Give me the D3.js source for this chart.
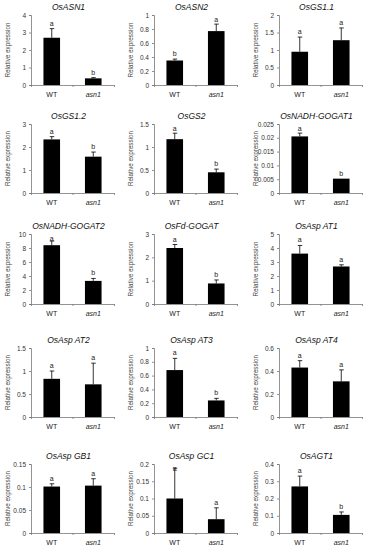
<!DOCTYPE html>
<html>
<head>
<meta charset="utf-8">
<script src="https://cdn.jsdelivr.net/npm/d3@7"></script>
<style>
  body { margin: 0; background: #fff; }
  svg { display: block; font-family: "Liberation Sans", Arial, sans-serif; }
</style>
</head>
<body>
<svg id="chart"></svg>
<script>
var width = 365;
var height = 550;

// chart values
var genes = ["OsASN1", "OsASN2", "OsGS1.1",
             "OsGS1.2", "OsGS2", "OsNADH-GOGAT1",
             "OsNADH-GOGAT2", "OsFd-GOGAT", "OsAsp AT1",
             "OsAsp AT2", "OsAsp AT3", "OsAsp AT4",
             "OsAsp GB1", "OsAsp GC1", "OsAGT1"];
var groups = ["WT", "asn1"];
var wtMean  = [2.7, 0.35, 0.95, 2.33, 1.17, 0.0205, 8.4, 2.4, 3.6, 0.83, 0.68, 0.43, 0.101, 0.1, 0.27];
var wtErr   = [0.52, 0.02, 0.42, 0.12, 0.13, 0.0012, 0.6, 0.15, 0.58, 0.17, 0.17, 0.06, 0.006, 0.088, 0.06];
var asnMean = [0.38, 0.77, 1.28, 1.58, 0.45, 0.0052, 3.3, 0.88, 2.68, 0.71, 0.24, 0.31, 0.103, 0.04, 0.105];
var asnErr  = [0.04, 0.10, 0.35, 0.2, 0.07, 0, 0.35, 0.15, 0.12, 0.46, 0.03, 0.10, 0.015, 0.033, 0.017];
var wtLetter  = ["a", "b", "a", "a", "a", "a", "a", "a", "a", "a", "a", "a", "a", "a", "a"];
var asnLetter = ["b", "a", "a", "b", "b", "b", "b", "b", "a", "a", "b", "a", "a", "a", "b"];
var yMax  = [4, 1, 2, 3, 1.5, 0.025, 10, 3, 5, 1.5, 1, 0.6, 0.15, 0.2, 0.4];
var yStep = [1, 0.2, 0.5, 1, 0.5, 0.005, 2, 1, 1, 0.5, 0.2, 0.2, 0.05, 0.05, 0.1];

// grid of panels
var colX = [31, 154, 279];
var rowTop = [15, 124, 234, 348, 464];
var rowZero = [85, 193, 304, 417, 533];
var plotW = 83;

var svg = d3.select("#chart").attr("width", width).attr("height", height);

genes.forEach(function(gene, i) {
  var r = Math.floor(i / 3), c = i % 3;
  var g = svg.append("g").attr("transform", "translate(" + colX[c] + ",0)");

  var y = d3.scaleLinear().domain([0, yMax[i]]).range([rowZero[r], rowTop[r]]);
  var x = d3.scaleBand().domain(groups).range([0, plotW])
    .paddingInner(0.6).paddingOuter(0.3);

  var ticks = d3.range(0, yMax[i] + yStep[i] / 2, yStep[i]);
  var fmt = function(d) { return String(+d.toFixed(6)); };

  var yAxis = d3.axisLeft(y).tickValues(ticks).tickFormat(fmt).tickSize(2).tickPadding(3);
  var ya = g.append("g").call(yAxis);
  ya.select(".domain").attr("stroke", "#777").attr("stroke-width", 0.8);
  ya.selectAll(".tick line").attr("stroke", "#777").attr("stroke-width", 0.8);
  ya.selectAll(".tick text").attr("fill", "#333").style("font-size", "6.5px");

  // x axis with ticks between categories
  var xs = d3.scaleLinear().domain([0, 2]).range([0, plotW]);
  var xa = g.append("g").attr("transform", "translate(0," + rowZero[r] + ")")
    .call(d3.axisBottom(xs).tickValues([0, 1, 2]).tickFormat("").tickSizeInner(2).tickSizeOuter(0));
  xa.select(".domain").attr("stroke", "#777").attr("stroke-width", 0.8);
  xa.selectAll(".tick line").attr("stroke", "#777").attr("stroke-width", 0.8);

  g.selectAll(".xlab").data(groups).enter().append("text")
    .attr("x", function(d) { return x(d) + x.bandwidth() / 2; })
    .attr("y", rowZero[r] + 12)
    .attr("text-anchor", "middle")
    .attr("fill", "#222")
    .style("font-size", "7px")
    .style("font-style", function(d) { return d == "asn1" ? "italic" : "normal"; })
    .text(function(d) { return d; });

  var rows = [
    { grp: "WT", mean: wtMean[i], err: wtErr[i], letter: wtLetter[i] },
    { grp: "asn1", mean: asnMean[i], err: asnErr[i], letter: asnLetter[i] }
  ];

  g.selectAll(".bar").data(rows).enter().append("rect")
    .attr("x", function(d) { return x(d.grp); })
    .attr("width", x.bandwidth())
    .attr("y", function(d) { return y(d.mean); })
    .attr("height", function(d) { return rowZero[r] - y(d.mean); })
    .attr("fill", "#000");

  var cx = function(d) { return x(d.grp) + x.bandwidth() / 2; };

  g.selectAll(".err").data(rows.filter(function(d) { return d.err > 0; })).enter().append("line")
    .attr("x1", cx).attr("x2", cx)
    .attr("y1", function(d) { return y(d.mean); })
    .attr("y2", function(d) { return y(d.mean + d.err); })
    .attr("stroke", "#000").attr("stroke-width", 0.8);

  g.selectAll(".cap").data(rows.filter(function(d) { return d.err > 0; })).enter().append("line")
    .attr("x1", function(d) { return cx(d) - 2; })
    .attr("x2", function(d) { return cx(d) + 2.5; })
    .attr("y1", function(d) { return y(d.mean + d.err); })
    .attr("y2", function(d) { return y(d.mean + d.err); })
    .attr("stroke", "#000").attr("stroke-width", 0.8);

  // letters sit above the error bar, but never up into the title
  g.selectAll(".letter").data(rows).enter().append("text")
    .attr("x", cx)
    .attr("y", function(d) { return Math.max(y(d.mean + d.err) - 3, rowTop[r] + 7); })
    .attr("text-anchor", "middle")
    .attr("fill", "#222")
    .style("font-size", "7px")
    .text(function(d) { return d.letter; });

  // title
  g.append("text")
    .attr("x", plotW / 2 - 4)
    .attr("y", rowTop[r] - 5)
    .attr("text-anchor", "middle")
    .attr("fill", "#111")
    .style("font-size", "8.5px")
    .style("font-style", "italic")
    .text(gene);

  // y label
  g.append("text")
    .attr("transform", "translate(-21," + (rowTop[r] + rowZero[r]) / 2 + ") rotate(-90)")
    .attr("text-anchor", "middle")
    .attr("fill", "#444")
    .style("font-size", "6.3px")
    .text("Relative expression");
});
</script>
</body>
</html>
